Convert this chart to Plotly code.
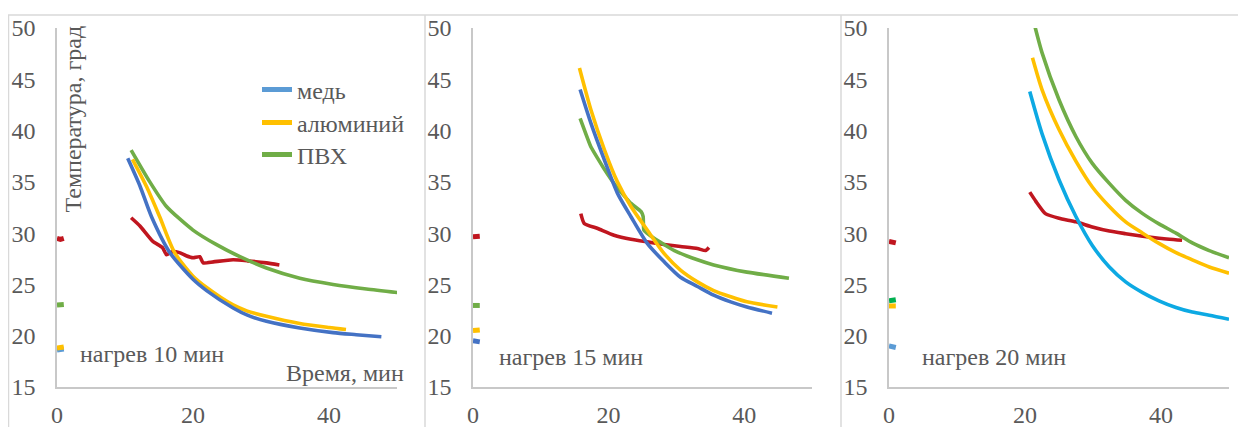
import plotly.graph_objects as go

# ---------------- data (time in minutes, temperature in degrees) ----------------
# Panel 1: heating 10 min
p1_cu_t = [10.4, 12.2, 13.9, 16.6, 20.0, 22.0, 25.9, 28.0, 30.8, 35.7, 40.6, 44.0, 47.7]
p1_cu_T = [37.3, 34.6, 31.6, 28.1, 25.5, 24.4, 22.7, 22.0, 21.4, 20.75, 20.3, 20.1, 19.9]
p1_al_t = [11.1, 13.2, 15.1, 17.3, 20.0, 22.0, 25.9, 28.0, 30.8, 35.7, 40.0, 42.5]
p1_al_T = [37.2, 34.5, 31.6, 28.1, 25.8, 24.7, 23.0, 22.4, 21.9, 21.2, 20.8, 20.6]
p1_pvc_t = [10.9, 13.6, 16.1, 20.0, 23.4, 26.9, 30.8, 35.7, 40.6, 45.5, 50.1]
p1_pvc_T = [38.1, 35.05, 32.6, 30.3, 28.9, 27.7, 26.6, 25.6, 25.0, 24.55, 24.2]
p1_air_t = [10.9, 12.2, 14.1, 15.5, 16.1, 17.0, 18.0, 19.0, 20.0, 21.0, 21.5, 23.0, 25.9, 28.0, 30.8, 32.7]
p1_air_T = [31.5, 30.7, 29.2, 28.6, 27.9, 28.2, 28.1, 27.8, 27.6, 27.7, 27.1, 27.2, 27.4, 27.3, 27.1, 26.9]
p1_start_t = [0.0, 0.5, 1.0]
p1_start_cu = [18.6, 18.6, 18.7]
p1_start_al = [18.8, 18.85, 18.9]
p1_start_pvc = [23.0, 23.0, 23.05]
p1_start_air = [29.5, 29.4, 29.5]

# Panel 2: heating 15 min
p2_cu_t = [15.8, 17.4, 19.4, 21.3, 23.3, 25.7, 28.2, 30.6, 33.1, 35.5, 38.0, 40.4, 44.1]
p2_cu_T = [44.0, 40.7, 37.1, 33.9, 31.6, 29.0, 27.2, 25.7, 24.8, 23.95, 23.3, 22.8, 22.2]
p2_al_t = [15.7, 17.4, 19.4, 21.3, 23.3, 25.7, 28.2, 30.6, 33.1, 35.5, 38.0, 40.4, 44.9]
p2_al_T = [46.1, 42.0, 38.1, 35.0, 32.6, 30.3, 28.0, 26.4, 25.25, 24.4, 23.8, 23.3, 22.8]
p2_pvc_t = [15.8, 17.4, 19.4, 21.3, 23.3, 24.8, 25.1, 25.2, 26.7, 29.7, 33.1, 35.5, 40.4, 46.6]
p2_pvc_T = [41.2, 38.4, 36.2, 34.4, 32.9, 32.1, 31.6, 30.3, 29.5, 28.3, 27.4, 26.9, 26.2, 25.6]
p2_air_t = [15.9, 16.4, 18.4, 20.8, 23.3, 25.7, 28.2, 30.6, 33.1, 34.3, 34.8]
p2_air_T = [31.9, 30.95, 30.45, 29.8, 29.4, 29.15, 28.9, 28.7, 28.5, 28.3, 28.6]
p2_start_t = [0.0, 0.5, 1.0]
p2_start_cu = [19.5, 19.45, 19.4]
p2_start_al = [20.5, 20.5, 20.55]
p2_start_pvc = [22.95, 23.0, 22.95]
p2_start_air = [29.65, 29.65, 29.7]

# Panel 3: heating 20 min
p3_cu_t = [20.7, 22.5, 25.0, 27.5, 29.9, 32.4, 34.8, 37.3, 39.7, 42.2, 44.6, 47.1, 50.0]
p3_cu_T = [43.8, 39.7, 35.2, 31.6, 28.8, 26.7, 25.25, 24.2, 23.4, 22.75, 22.3, 22.0, 21.6]
p3_al_t = [21.1, 22.5, 25.0, 27.5, 29.9, 32.4, 34.8, 37.3, 39.7, 42.2, 44.6, 47.1, 50.0]
p3_al_T = [47.1, 44.0, 40.1, 37.0, 34.5, 32.6, 31.1, 30.0, 29.0, 28.1, 27.4, 26.7, 26.1]
p3_pvc_t = [21.4, 22.5, 25.0, 27.5, 29.9, 32.4, 34.8, 37.3, 39.7, 42.2, 44.6, 47.1, 50.0]
p3_pvc_T = [50.3, 47.6, 43.0, 39.4, 36.8, 34.85, 33.2, 31.9, 30.9, 30.0, 29.05, 28.3, 27.6]
p3_air_t = [20.7, 21.6, 23.0, 25.0, 27.5, 29.9, 32.4, 34.8, 37.3, 39.7, 43.1]
p3_air_T = [34.0, 33.1, 31.9, 31.45, 31.1, 30.6, 30.2, 29.95, 29.7, 29.5, 29.3]
p3_start_t = [0.0, 0.5, 1.0]
p3_start_cu = [19.0, 18.95, 18.85]
p3_start_al = [22.9, 22.85, 22.9]
p3_start_pvc = [23.4, 23.4, 23.5]
p3_start_air = [29.2, 29.1, 29.05]

legend_names = ["медь", "алюминий", "ПВХ"]
heating_labels = ["нагрев 10 мин", "нагрев 15 мин", "нагрев 20 мин"]
x_ticks = [0, 20, 40]
y_ticks = [15, 20, 25, 30, 35, 40, 45, 50]

# ---------------- styling ----------------
FONT = "Liberation Serif, Times New Roman, DejaVu Serif, serif"
FS = 24
GRAY = "#595959"
OFF = 8                      # page body margin
W, H = 1246 - OFF, 427 - OFF
LW = 3.6


def px(x):   # page x pixel -> paper fraction
    return (x - OFF) / W


def py(y):   # page y pixel (from top) -> paper fraction
    return (H - (y - OFF)) / H


panels = [
    dict(cu=(p1_cu_t, p1_cu_T), al=(p1_al_t, p1_al_T), pvc=(p1_pvc_t, p1_pvc_T), air=(p1_air_t, p1_air_T),
         st=p1_start_t, s_cu=p1_start_cu, s_al=p1_start_al, s_pvc=p1_start_pvc, s_air=p1_start_air,
         c_cu="#4472C4", c_scu="#5B9BD5", c_al="#FFC000", c_pvc="#70AD47", c_spvc="#70AD47"),
    dict(cu=(p2_cu_t, p2_cu_T), al=(p2_al_t, p2_al_T), pvc=(p2_pvc_t, p2_pvc_T), air=(p2_air_t, p2_air_T),
         st=p2_start_t, s_cu=p2_start_cu, s_al=p2_start_al, s_pvc=p2_start_pvc, s_air=p2_start_air,
         c_cu="#4472C4", c_scu="#4472C4", c_al="#FFC000", c_pvc="#70AD47", c_spvc="#70AD47"),
    dict(cu=(p3_cu_t, p3_cu_T), al=(p3_al_t, p3_al_T), pvc=(p3_pvc_t, p3_pvc_T), air=(p3_air_t, p3_air_T),
         st=p3_start_t, s_cu=p3_start_cu, s_al=p3_start_al, s_pvc=p3_start_pvc, s_air=p3_start_air,
         c_cu="#0DA9E3", c_scu="#5B9BD5", c_al="#FFC000", c_pvc="#70AD47", c_spvc="#00B050"),
]
RED = "#C0161F"

# axis pixel positions on the page
x_px = [(57, 397), (473, 812), (889, 1229)]
y_px = (28, 387)  # top, bottom
label_pos = [(78, 354), (497, 357), (920, 357)]
legend_rows = [90, 123, 155]   # page y of the three legend entries


def curve(t, T, color, xa, ya, smooth=0.7):
    return go.Scatter(x=t, y=T, mode="lines", line=dict(color=color, width=LW, shape="spline", smoothing=smooth),
                      xaxis=xa, yaxis=ya, showlegend=False)


fig = go.Figure()
for i, p in enumerate(panels):
    xa = "x" if i == 0 else f"x{i+1}"
    ya = "y" if i == 0 else f"y{i+1}"
    show = (i == 0)
    fig.add_trace(curve(p["air"][0], p["air"][1], RED, xa, ya, 0.5))
    fig.add_trace(curve(p["pvc"][0], p["pvc"][1], p["c_pvc"], xa, ya, 0.6 if i != 1 else 0.3))
    fig.add_trace(curve(p["al"][0], p["al"][1], p["c_al"], xa, ya))
    fig.add_trace(curve(p["cu"][0], p["cu"][1], p["c_cu"], xa, ya))
    fig.add_trace(go.Scatter(x=p["st"], y=p["s_air"], mode="lines", line=dict(color=RED, width=5),
                             xaxis=xa, yaxis=ya, showlegend=False))
    fig.add_trace(go.Scatter(x=p["st"], y=p["s_pvc"], mode="lines", line=dict(color=p["c_spvc"], width=5),
                             xaxis=xa, yaxis=ya, name=legend_names[2], showlegend=show, legend="legend3"))
    fig.add_trace(go.Scatter(x=p["st"], y=p["s_cu"], mode="lines", line=dict(color=p["c_scu"], width=5),
                             xaxis=xa, yaxis=ya, name=legend_names[0], showlegend=show, legend="legend"))
    fig.add_trace(go.Scatter(x=p["st"], y=p["s_al"], mode="lines", line=dict(color=p["c_al"], width=5),
                             xaxis=xa, yaxis=ya, name=legend_names[1], showlegend=show, legend="legend2"))

    axis_common = dict(showgrid=False, zeroline=False, showline=True, linecolor="#C8C8C8", linewidth=1.5,
                       ticks="", tickfont=dict(family=FONT, size=FS, color=GRAY), fixedrange=True,
                       automargin=False)
    xkey = "xaxis" if i == 0 else f"xaxis{i+1}"
    ykey = "yaxis" if i == 0 else f"yaxis{i+1}"
    fig.update_layout(**{
        xkey: dict(axis_common, domain=[px(x_px[i][0]), px(x_px[i][1])], range=[0, 50],
                   tickvals=x_ticks, anchor=ya, ticklabelstandoff=5),
        ykey: dict(axis_common, domain=[py(y_px[1]), py(y_px[0])], range=[15, 50],
                   tickvals=y_ticks, anchor=xa, ticklabelstandoff=15),
    })
    fig.add_annotation(text=heating_labels[i], xref="paper", yref="paper",
                       x=px(label_pos[i][0]), y=py(label_pos[i][1]), xanchor="left", yanchor="middle",
                       showarrow=False, font=dict(family=FONT, size=FS, color=GRAY))

fig.add_annotation(text="Температура, град", xref="paper", yref="paper", x=px(72), y=py(24),
                   xanchor="center", yanchor="top", textangle=-90, showarrow=False,
                   font=dict(family=FONT, size=FS, color=GRAY))
fig.add_annotation(text="Время, мин", xref="paper", yref="paper", x=px(406), y=py(373),
                   xanchor="right", yanchor="middle", showarrow=False,
                   font=dict(family=FONT, size=FS, color=GRAY))

# chart-area frames
frame = dict(type="line", xref="paper", yref="paper", line=dict(color="#D9D9D9", width=1.5))
fig.add_shape(frame, x0=px(8), x1=1, y0=py(15), y1=py(15))
for xf in (8.5, 425, 841):
    fig.add_shape(frame, x0=px(xf), x1=px(xf), y0=0, y1=py(15))

legend_style = dict(xanchor="left", yanchor="middle", bgcolor="rgba(0,0,0,0)",
                    font=dict(family=FONT, size=FS, color=GRAY), itemclick=False, itemdoubleclick=False)
fig.update_layout(
    width=W, height=H, margin=dict(l=0, r=0, t=0, b=0, autoexpand=False),
    paper_bgcolor="white", plot_bgcolor="white",
    showlegend=True,
    legend=dict(legend_style, x=px(257), y=py(legend_rows[0])),
    legend2=dict(legend_style, x=px(257), y=py(legend_rows[1])),
    legend3=dict(legend_style, x=px(257), y=py(legend_rows[2])),
)

fig.write_html("out.html")
